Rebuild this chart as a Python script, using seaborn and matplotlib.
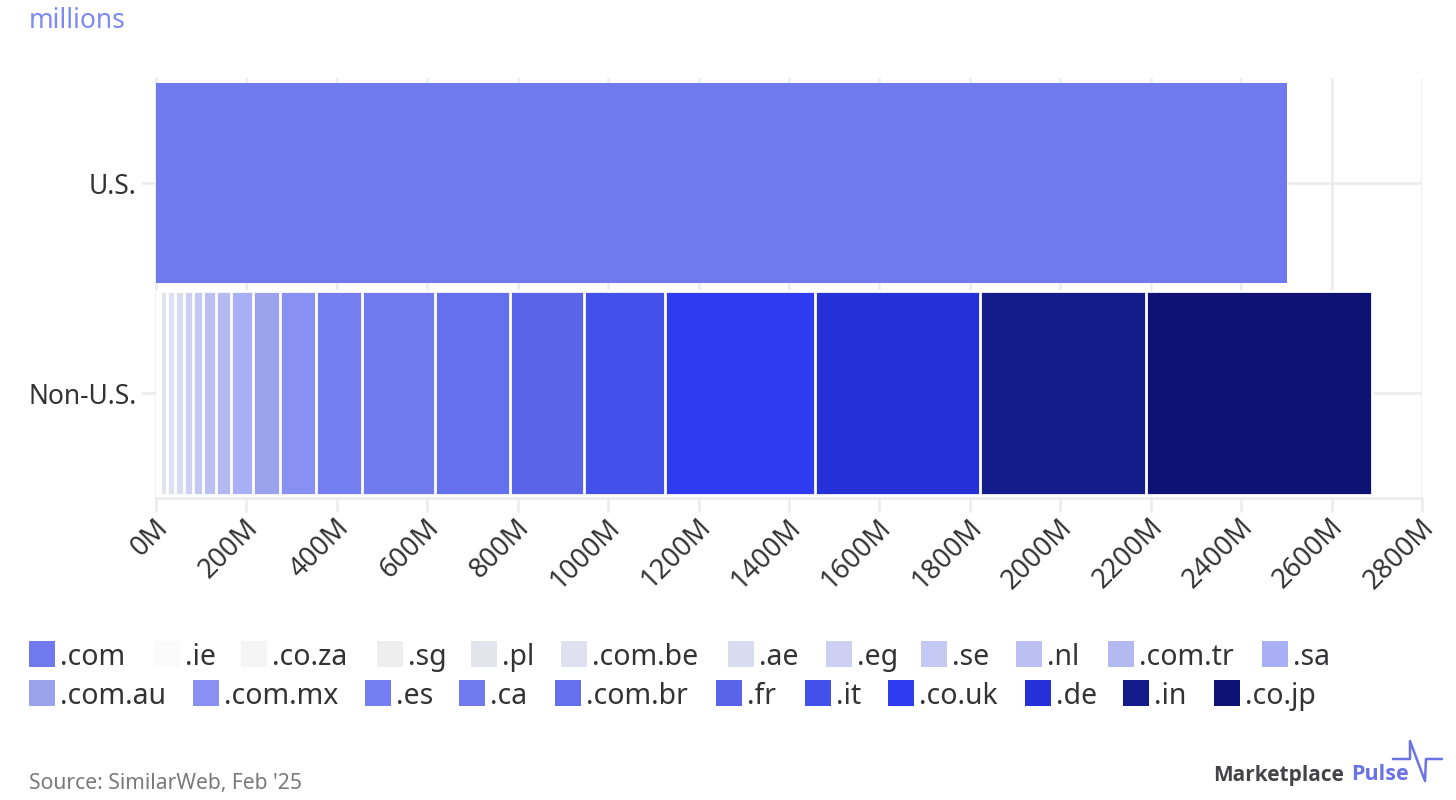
"""
plot.py - U.S. vs Non-U.S. traffic by Amazon domain (stacked bar)
"""
import numpy as np
import pandas as pd
import matplotlib
matplotlib.use("Agg")
import matplotlib.pyplot as plt
from matplotlib.lines import Line2D
from matplotlib.patches import Rectangle
from matplotlib.transforms import ScaledTranslation
import seaborn as sns

rows = ["U.S.", "Non-U.S."]
us_domain = ".com"
us_value = 2501

domains = [".ie", ".co.za", ".sg", ".pl", ".com.be", ".ae", ".eg", ".se", ".nl", ".com.tr", ".sa",
           ".com.au", ".com.mx", ".es", ".ca", ".com.br", ".fr", ".it", ".co.uk", ".de", ".in", ".co.jp"]
values = [2, 3, 4, 15, 18, 20, 20, 23, 28, 33, 48,
          60, 80, 101, 163, 164, 165, 179, 331, 366, 366, 501]
colors = ["#fbfbfc", "#f5f5f6", "#eeeeef", "#e4e5ec", "#dfe0f0", "#d9dbf1", "#cdd0f2", "#c5c8f3", "#bcbff2",
          "#b5b9f2", "#a9aff5", "#9aa2ec", "#8890f3", "#757ff2", "#7079ee", "#6570ee", "#5a64ea", "#4450ea",
          "#2e3bf0", "#2430d8", "#141c8c", "#0f1275"]
us_color = "#7079ee"

x_ticks = list(range(0, 2801, 200))

W, H = 1456, 800
GRID = "#ececee"
TEXT = "#333335"

sns.set_theme(style="white")
plt.rcParams["font.family"] = ["Noto Sans", "DejaVu Sans"]

fig = plt.figure(figsize=(W / 100, H / 100), dpi=100, facecolor="white")
ax = fig.add_axes([156 / W, 1 - 498 / H, (1422 - 156) / W, (498 - 78) / H])

# stack = cumulative totals, drawn largest first so the smaller ones sit on top
cum = np.cumsum(values)
df = pd.DataFrame({"row": "Non-U.S.", "domain": domains, "total": cum})
sns.barplot(data=df, x="total", y="row", hue="domain", order=rows,
            hue_order=domains[::-1], palette=dict(zip(domains, colors)),
            dodge=False, legend=False, saturation=1, width=0.968,
            edgecolor="white", linewidth=2.0, ax=ax, zorder=3)
us_df = pd.DataFrame({"row": ["U.S."], "total": [us_value]})
sns.barplot(data=us_df, x="total", y="row", order=rows, color=us_color,
            saturation=1, width=0.957, linewidth=0, ax=ax, zorder=3)

ax.set_xlim(0, 2800)
ax.set_ylim(1.5, -0.5)
ax.set_xlabel("")
ax.set_ylabel("")
ax.set_xticks(x_ticks)
ax.set_xticklabels([f"{t}M" for t in x_ticks], rotation=45, ha="right",
                   rotation_mode="anchor", fontsize=19.5, color=TEXT)
ax.tick_params(axis="x", length=10, width=1.8, color=GRID, pad=1, bottom=True)
ax.tick_params(axis="y", length=11, width=1.8, color=GRID, pad=3, left=True, labelsize=19, labelcolor=TEXT)
ax.grid(True, color=GRID, linewidth=1.8)
ax.set_axisbelow(True)
for side in ["top", "right"]:
    ax.spines[side].set_visible(False)
for side in ["left", "bottom"]:
    ax.spines[side].set_color(GRID)
    ax.spines[side].set_linewidth(1.8)

# nudge the rotated labels to line up with the original
shift = ScaledTranslation(-2 / 100, 0, fig.dpi_scale_trans)
for lab in ax.get_xticklabels():
    lab.set_transform(lab.get_transform() + shift)


def fx(px):
    return px / W


def fy(py):
    return 1 - py / H


fig.text(fx(29), fy(21), "millions", color="#7f8af2", fontsize=19, va="center")

# legend, two rows laid out by hand like the original
legend_names = [us_domain] + domains
legend_colors = [us_color] + colors
row1_x = [29, 154, 241, 377, 471, 561, 728, 826, 921, 1016, 1108, 1262]
row2_x = [29, 193, 365, 459, 555, 716, 805, 888, 1025, 1123, 1214]
slots = [(x, 654) for x in row1_x] + [(x, 693) for x in row2_x]
for name, col, (sx, sy) in zip(legend_names, legend_colors, slots):
    fig.add_artist(Rectangle((fx(sx), fy(sy + 13)), 26 / W, 26 / H, transform=fig.transFigure,
                             facecolor=col, edgecolor="none"))
    fig.text(fx(sx + 31), fy(sy), name, color=TEXT, fontsize=20.5, va="center_baseline")

fig.text(fx(29), fy(784), "Source: SimilarWeb, Feb '25", color="#7a7a7c", fontsize=15.2, va="center")

# logo
fig.text(fx(1213), fy(775), "Marketplace", color="#444446", fontsize=15, fontweight="bold",
         family="Open Sans", va="center")
fig.text(fx(1351), fy(775), "Pulse", color="#6a72e4", fontsize=15.5, fontweight="bold",
         family="Open Sans", va="center")
logo_x = [1393, 1410, 1410, 1425, 1426, 1442]
logo_y = [759, 759, 741, 781, 759, 759]
fig.add_artist(Line2D([fx(p) for p in logo_x], [fy(p) for p in logo_y], color="#6a72e4",
                      linewidth=1.8, transform=fig.transFigure))

fig.savefig("out.png", dpi=100)
